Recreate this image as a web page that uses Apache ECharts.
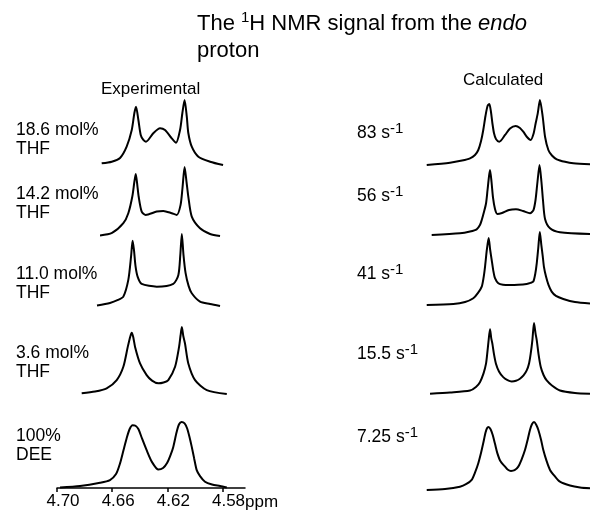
<!DOCTYPE html>
<html>
<head>
<meta charset="utf-8">
<script src="https://cdn.jsdelivr.net/npm/echarts@6/dist/echarts.min.js"></script>
<style>
html, body { margin: 0; padding: 0; background: #fff; }
#chart { width: 590px; height: 510px; }
</style>
</head>
<body>
<div id="chart"></div>
<script>
// spectra: [ppm, relative intensity]

// experimental
var exp186 = [[4.6676,0.026],[4.6603,0.051],[4.6543,0.108],[4.6495,0.282],[4.6458,0.538],[4.6439,0.80],[4.6427,0.897],[4.6410,0.692],[4.6393,0.462],[4.6374,0.385],[4.6355,0.358],[4.6302,0.488],[4.6253,0.565],[4.6217,0.538],[4.6168,0.411],[4.6137,0.343],[4.6108,0.538],[4.6091,0.80],[4.6075,1.0],[4.6059,0.743],[4.6048,0.492],[4.6023,0.282],[4.5975,0.128],[4.5890,0.051],[4.5796,0.0]];
var exp142 = [[4.6688,0.007],[4.6601,0.044],[4.6519,0.185],[4.6483,0.33],[4.6454,0.572],[4.6439,0.786],[4.6429,0.898],[4.6418,0.742],[4.6408,0.572],[4.6386,0.354],[4.6357,0.306],[4.6277,0.354],[4.6229,0.364],[4.6168,0.33],[4.6132,0.306],[4.6104,0.451],[4.6090,0.699],[4.6075,1.0],[4.6061,0.786],[4.6048,0.572],[4.6023,0.281],[4.5963,0.112],[4.5890,0.029],[4.5818,0.0]];
var exp110 = [[4.6710,0.007],[4.6616,0.042],[4.6558,0.084],[4.6519,0.13],[4.6483,0.363],[4.6463,0.688],[4.6452,0.907],[4.6442,0.781],[4.6431,0.558],[4.6415,0.404],[4.6386,0.307],[4.6277,0.269],[4.6157,0.307],[4.6120,0.432],[4.6106,0.711],[4.6095,1.0],[4.6083,0.711],[4.6068,0.46],[4.6046,0.279],[4.6023,0.177],[4.5963,0.06],[4.5890,0.028],[4.5818,0.0]];
var exp36 = [[4.6821,0.01],[4.6724,0.037],[4.6640,0.085],[4.6567,0.208],[4.6519,0.406],[4.6487,0.703],[4.6468,0.862],[4.6458,0.914],[4.6447,0.847],[4.6434,0.703],[4.6398,0.456],[4.6350,0.282],[4.6311,0.2],[4.6265,0.159],[4.6228,0.171],[4.6193,0.208],[4.6144,0.406],[4.6115,0.703],[4.6104,0.877],[4.6095,1.0],[4.6084,0.862],[4.6072,0.753],[4.6048,0.456],[4.5999,0.208],[4.5914,0.059],[4.5769,0.0]];
var exp100 = [[4.6978,0.008],[4.6833,0.03],[4.6688,0.08],[4.6616,0.121],[4.6572,0.211],[4.6543,0.373],[4.6518,0.573],[4.6495,0.754],[4.6474,0.89],[4.6452,0.95],[4.6431,0.943],[4.6409,0.89],[4.6387,0.769],[4.6350,0.573],[4.6311,0.392],[4.6265,0.279],[4.6231,0.302],[4.6202,0.377],[4.6177,0.498],[4.6157,0.623],[4.6133,0.845],[4.6115,0.965],[4.6097,1.0],[4.6075,0.98],[4.6057,0.905],[4.6039,0.769],[4.6023,0.623],[4.6006,0.452],[4.5987,0.271],[4.5963,0.181],[4.5927,0.095],[4.5876,0.053],[4.5818,0.03],[4.5769,0.008]];

// calculated
var calc83 = [[4.6886,0],[4.6717,0.035],[4.6630,0.069],[4.6572,0.103],[4.6536,0.154],[4.6512,0.231],[4.6492,0.369],[4.6476,0.538],[4.6460,0.754],[4.6445,0.908],[4.6432,0.938],[4.6420,0.815],[4.6409,0.631],[4.6398,0.488],[4.6384,0.4],[4.6360,0.358],[4.6318,0.462],[4.6282,0.562],[4.6241,0.6],[4.6210,0.569],[4.6186,0.512],[4.6159,0.431],[4.6132,0.385],[4.6112,0.477],[4.6097,0.631],[4.6081,0.795],[4.6065,1.0],[4.6045,0.743],[4.6028,0.435],[4.6004,0.231],[4.5978,0.146],[4.5943,0.088],[4.5883,0.049],[4.5823,0.026],[4.5702,0.011]];
var calc56 = [[4.6850,0],[4.6645,0.024],[4.6572,0.05],[4.6524,0.081],[4.6500,0.143],[4.6487,0.214],[4.6471,0.329],[4.6456,0.45],[4.6445,0.643],[4.6434,0.843],[4.6427,0.929],[4.6416,0.757],[4.6405,0.529],[4.6391,0.371],[4.6374,0.3],[4.6340,0.314],[4.6289,0.357],[4.6239,0.367],[4.6188,0.343],[4.6137,0.31],[4.6112,0.357],[4.6097,0.5],[4.6083,0.757],[4.6068,1.0],[4.6054,0.757],[4.6043,0.5],[4.6028,0.229],[4.5992,0.096],[4.5920,0.039],[4.5702,0.014]];
var calc41 = [[4.6886,0],[4.6693,0.014],[4.6608,0.041],[4.6548,0.092],[4.6514,0.165],[4.6487,0.252],[4.6474,0.371],[4.6463,0.527],[4.6450,0.757],[4.6437,0.917],[4.6426,0.757],[4.6415,0.619],[4.6403,0.468],[4.6391,0.367],[4.6367,0.298],[4.6333,0.278],[4.6282,0.275],[4.6224,0.278],[4.6161,0.289],[4.6133,0.303],[4.6113,0.321],[4.6099,0.426],[4.6088,0.574],[4.6077,0.784],[4.6066,1.0],[4.6055,0.825],[4.6045,0.674],[4.6036,0.523],[4.6021,0.389],[4.6003,0.275],[4.5980,0.183],[4.5949,0.124],[4.5896,0.083],[4.5811,0.041],[4.5702,0.021]];
var calc155 = [[4.6862,0.003],[4.6717,0.021],[4.6572,0.049],[4.6529,0.099],[4.6500,0.167],[4.6474,0.29],[4.6456,0.427],[4.6447,0.572],[4.6438,0.742],[4.6427,0.911],[4.6418,0.784],[4.6410,0.709],[4.6398,0.558],[4.6384,0.427],[4.6362,0.318],[4.6331,0.237],[4.6300,0.195],[4.6270,0.177],[4.6239,0.186],[4.6210,0.215],[4.6184,0.261],[4.6161,0.332],[4.6144,0.431],[4.6132,0.568],[4.6120,0.756],[4.6108,1.0],[4.6097,0.855],[4.6088,0.756],[4.6075,0.558],[4.6059,0.379],[4.6039,0.268],[4.6016,0.191],[4.5978,0.12],[4.5920,0.049],[4.5811,0.014],[4.5702,0.003]];
var calc725 = [[4.6886,0],[4.6753,0.015],[4.6645,0.049],[4.6598,0.089],[4.6560,0.148],[4.6534,0.266],[4.6512,0.394],[4.6492,0.547],[4.6476,0.69],[4.6460,0.842],[4.6449,0.908],[4.6438,0.926],[4.6423,0.894],[4.6408,0.812],[4.6391,0.679],[4.6374,0.542],[4.6351,0.421],[4.6318,0.344],[4.6297,0.298],[4.6275,0.281],[4.6249,0.291],[4.6222,0.344],[4.6199,0.443],[4.6173,0.591],[4.6154,0.739],[4.6137,0.886],[4.6123,0.968],[4.6108,1.0],[4.6092,0.96],[4.6077,0.886],[4.6057,0.739],[4.6041,0.591],[4.6017,0.428],[4.5992,0.295],[4.5956,0.199],[4.5920,0.123],[4.5847,0.066],[4.5774,0.037],[4.5702,0.025]];

var sampleNames = ['18.6 mol%\nTHF', '14.2 mol%\nTHF', '11.0 mol%\nTHF', '3.6 mol%\nTHF', '100%\nDEE'];
var rates = ['83', '56', '41', '15.5', '7.25'];
var ppmTicks = [4.70, 4.66, 4.62, 4.58];

var expSpectra = [exp186, exp142, exp110, exp36, exp100];
var calcSpectra = [calc83, calc56, calc41, calc155, calc725];

// layout: [top, height] of every panel
var expRows = [[100, 65], [167, 69], [234, 72], [327, 67], [422, 66]];
var calcRows = [[100, 65], [165, 70], [232, 73], [323, 71], [422, 68]];
var sampleTops = [120, 184, 264, 343, 426];
var rateTops = [121, 184, 262, 342, 425];

var FONT = 'Liberation Sans, Arial, Helvetica, sans-serif';

var chart = echarts.init(document.getElementById('chart'));

var grids = [], xAxes = [], yAxes = [], series = [];

function addPanel(data, row, left, width, xmin, showAxis) {
    var i = grids.length;
    grids.push({ left: left, width: width, top: row[0], height: row[1] });
    xAxes.push({
        gridIndex: i, type: 'value', inverse: true, min: xmin, max: 4.70,
        show: showAxis,
        axisLine: { show: true, onZero: false, lineStyle: { color: '#000', width: 1.5 } },
        axisTick: { show: true, customValues: ppmTicks, length: 4, lineStyle: { color: '#000', width: 1.5 } },
        axisLabel: {
            show: true, customValues: ppmTicks, showMinLabel: true, showMaxLabel: true,
            formatter: function (v) { return v.toFixed(2); },
            color: '#000', fontSize: 17, fontFamily: FONT, margin: 5, padding: [0, 0, 0, 12]
        },
        splitLine: { show: false }
    });
    yAxes.push({ gridIndex: i, type: 'value', min: 0, max: 1, show: false });
    series.push({
        type: 'line', xAxisIndex: i, yAxisIndex: i, data: data,
        symbol: 'none', smooth: 0.25, clip: false,
        lineStyle: { color: '#000', width: 2 }
    });
}

expSpectra.forEach(function (d, k) {
    addPanel(d, expRows[k], 57, 188, 4.5637, k === 4);
});
calcSpectra.forEach(function (d, k) {
    addPanel(d, calcRows[k], 411, 179, 4.5702, false);
});

var titles = [
    {
        left: 197, top: 10, padding: 0,
        text: '{t|The }{u|1}{t|H NMR signal from the }{i|endo}\n{t|proton}',
        textStyle: {
            rich: {
                t: { fontSize: 22, lineHeight: 27, fontWeight: 'normal', fontFamily: FONT, color: '#000' },
                u: { fontSize: 15, lineHeight: 15, fontWeight: 'normal', verticalAlign: 'top', fontFamily: FONT, color: '#000' },
                i: { fontSize: 22, lineHeight: 27, fontWeight: 'normal', fontStyle: 'italic', fontFamily: FONT, color: '#000' }
            }
        }
    },
    { left: 101, top: 81, padding: 0, text: 'Experimental',
      textStyle: { fontSize: 17, fontWeight: 'normal', fontFamily: FONT, color: '#000' } },
    { left: 463, top: 72, padding: 0, text: 'Calculated',
      textStyle: { fontSize: 17, fontWeight: 'normal', fontFamily: FONT, color: '#000' } },
    { left: 245, top: 494, padding: 0, text: 'ppm',
      textStyle: { fontSize: 17, fontWeight: 'normal', fontFamily: FONT, color: '#000' } }
];

sampleNames.forEach(function (s, k) {
    titles.push({
        left: 16, top: sampleTops[k], padding: 0, text: s,
        textStyle: { fontSize: 17.5, lineHeight: 19.5, fontWeight: 'normal', fontFamily: FONT, color: '#000' }
    });
});
rates.forEach(function (r, k) {
    titles.push({
        left: 357, top: rateTops[k], padding: 0,
        text: '{n|' + r + ' s}{s|-1}',
        textStyle: {
            rich: {
                n: { fontSize: 17.5, lineHeight: 24, fontWeight: 'normal', fontFamily: FONT, color: '#000' },
                s: { fontSize: 15, lineHeight: 14, fontWeight: 'normal', verticalAlign: 'top', fontFamily: FONT, color: '#000' }
            }
        }
    });
});

chart.setOption({
    animation: false,
    backgroundColor: '#fff',
    title: titles,
    grid: grids,
    xAxis: xAxes,
    yAxis: yAxes,
    series: series
});
</script>
</body>
</html>
